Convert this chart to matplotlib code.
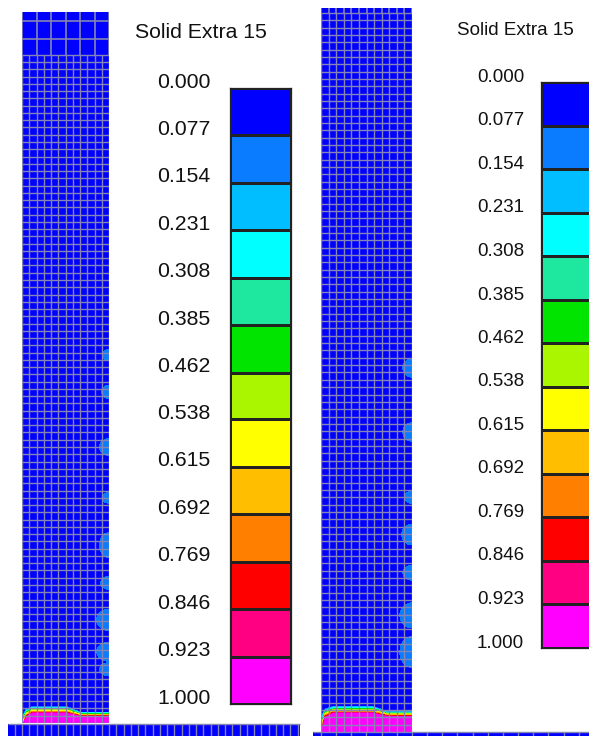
import numpy as np
import matplotlib
matplotlib.use("Agg")
import matplotlib.pyplot as plt
from matplotlib.colors import ListedColormap, BoundaryNorm

plt.rcParams['font.family'] = ['Liberation Sans', 'DejaVu Sans']

legend_title = "Solid Extra 15"
level_labels = ["0.000", "0.077", "0.154", "0.231", "0.308", "0.385", "0.462",
                "0.538", "0.615", "0.692", "0.769", "0.846", "0.923", "1.000"]
band_colors = ["#0000ff", "#0a7cff", "#00beff", "#00ffff", "#1ee8a0", "#00e400",
               "#aaf500", "#ffff00", "#ffbe00", "#ff8000", "#ff0000", "#ff0082", "#ff00ff"]

# Left run: pockets along the right wall (row, half-height, reach), in mesh cells
left_pocket_row = [50.7, 45.6, 38.0, 31.0, 24.5, 19.3, 14.2, 9.8, 7.4]
left_pocket_half = [0.75, 0.9, 1.15, 0.75, 1.7, 0.9, 1.45, 1.3, 0.9]
left_pocket_reach = [0.9, 1.0, 1.3, 0.9, 1.3, 1.15, 1.7, 1.7, 1.3]
# Left run: settled bed (deposit top and packed-core top), in mesh cells
left_bed_x = [0, 0.55, 1.38, 6.2, 8.0, 12]
left_bed_top = [0.8, 1.85, 2.25, 2.25, 1.5, 1.5]
left_bed_core = [-0.96, 0.75, 1.3, 1.3, 0.9, 0.9]

# Right run
right_pocket_row = [49.6, 40.9, 32.0, 26.9, 21.7, 15.9, 10.9]
right_pocket_half = [1.25, 1.25, 0.85, 1.4, 1.0, 1.7, 2.1]
right_pocket_reach = [1.2, 1.2, 0.95, 1.35, 1.2, 1.6, 1.6]
right_bed_x = [0, 0.53, 1.58, 6.86, 8.7, 12]
right_bed_top = [2.0, 3.1, 3.5, 3.5, 2.8, 2.8]
right_bed_core = [-0.4, 1.95, 2.5, 2.5, 2.1, 2.1]

levels = np.array([float(s) for s in level_labels])
cmap = ListedColormap(band_colors)
norm = BoundaryNorm(levels, cmap.N)

W, H = 589, 736
fig = plt.figure(figsize=(W / 100, H / 100), dpi=100)
fig.patch.set_facecolor("white")

# pixel-space canvas for strips and legend text
bg = fig.add_axes([0, 0, 1, 1])
bg.set_xlim(0, W)
bg.set_ylim(H, 0)
bg.axis("off")

mesh_color = (0.52, 0.52, 0.7)
grid_kw = dict(colors=[mesh_color], linewidth=1.0, zorder=3)


def solid_fraction(X, Y, p_row, p_half, p_reach, bx, btop, bcore, ncols=12):
    lo, hi = levels[1], levels[-2]
    top = np.interp(X[0], bx, btop)[None, :]
    core = np.interp(X[0], bx, bcore)[None, :]
    f = lo + (top - Y) / (top - core) * (hi - lo)
    f = np.clip(f, 0.0, 1.0)
    peak = 0.15
    for r, h, w in zip(p_row, p_half, p_reach):
        d2 = ((ncols - X) / w) ** 2 + ((Y - r) / h) ** 2
        f = np.maximum(f, np.clip(peak - (peak - lo) * d2, 0.0, None))
    return f


def draw_column(rect, fine_rows, top_row, coarse_rows, coarse_step,
                p_row, p_half, p_reach, bx, btop, bcore):
    ax = fig.add_axes(rect)
    ax.set_xlim(0, 12)
    ax.set_ylim(0, top_row)
    ax.axis("off")
    x = np.linspace(0, 12, 361)
    y = np.linspace(0, top_row, 3001)
    X, Y = np.meshgrid(x, y)
    F = solid_fraction(X, Y, p_row, p_half, p_reach, bx, btop, bcore)
    ax.contourf(X, Y, F, levels=levels, colors=band_colors, zorder=1)
    # fine mesh
    ax.vlines(np.arange(0, 13), 0, fine_rows, **grid_kw)
    ax.hlines(np.arange(0, fine_rows + 1), 0, 12, **grid_kw)
    # coarse cells above the refined zone
    for xc in np.arange(0, 13, coarse_step):
        ax.plot([xc, xc], [fine_rows, top_row], color=mesh_color, lw=1.2, zorder=3)
    for yc in coarse_rows:
        ax.plot([0, 12], [yc, yc], color=mesh_color, lw=1.2, zorder=3)
    return ax


# left column: x 22..109 px, y 12..723 px
draw_column([22 / W, 1 - 723 / H, 87 / W, 711 / H], 92, 97.9, [94.2, 96.6], 2,
            left_pocket_row, left_pocket_half, left_pocket_reach,
            left_bed_x, left_bed_top, left_bed_core)
# right column: x 321..412 px, y 8..732 px
draw_column([321 / W, 1 - 732 / H, 91 / W, 724 / H], 98, 98.68, [], 1,
            right_pocket_row, right_pocket_half, right_pocket_reach,
            right_bed_x, right_bed_top, right_bed_core)

# base plates under the columns
for x0, x1, y0, x_ref, step in [(8, 300, 724, 22, 7.25), (313, 589, 732, 321, 15.16)]:
    bg.add_patch(plt.Rectangle((x0, y0), x1 - x0, H - y0, color=band_colors[0], lw=0))
    xs = x_ref + step * np.arange(-5, 60)
    xs = xs[(xs > x0) & (xs < x1)]
    bg.vlines(xs, y0, H, **grid_kw)
    bg.hlines([y0], x0, x1, **grid_kw)


def draw_legend(box, title_xy, label_x, fsize, cap):
    x0, y0, x1, y1 = box
    cax = fig.add_axes([x0 / W, 1 - y1 / H, (x1 - x0) / W, (y1 - y0) / H])
    mids = 0.5 * (levels[:-1] + levels[1:])
    cax.pcolormesh([0, 1], levels, mids.reshape(-1, 1), cmap=cmap, norm=norm,
                   edgecolors="#222222", linewidth=0.8)
    cax.set_xlim(0, 1)
    cax.set_ylim(1, 0)
    cax.set_xticks([])
    cax.set_yticks([])
    for s in cax.spines.values():
        s.set_linewidth(0.9)
        s.set_color("#222222")
    bg.text(title_xy[0], title_xy[1] + cap / 2, legend_title, fontsize=fsize,
            ha="center", va="baseline", color="#111111")
    for v, lab in zip(levels, level_labels):
        yb = y0 + v * (y1 - y0)
        bg.text(label_x, yb - 0.4, lab, fontsize=fsize, ha="left", va="baseline",
                color="#111111")


draw_legend((230, 88, 291, 704), (201, 30), 157, 15.3, 15.2)
draw_legend((541, 82, 601, 648), (515, 28), 477, 13.5, 13.4)

fig.savefig("out.png", dpi=100, facecolor="white")
